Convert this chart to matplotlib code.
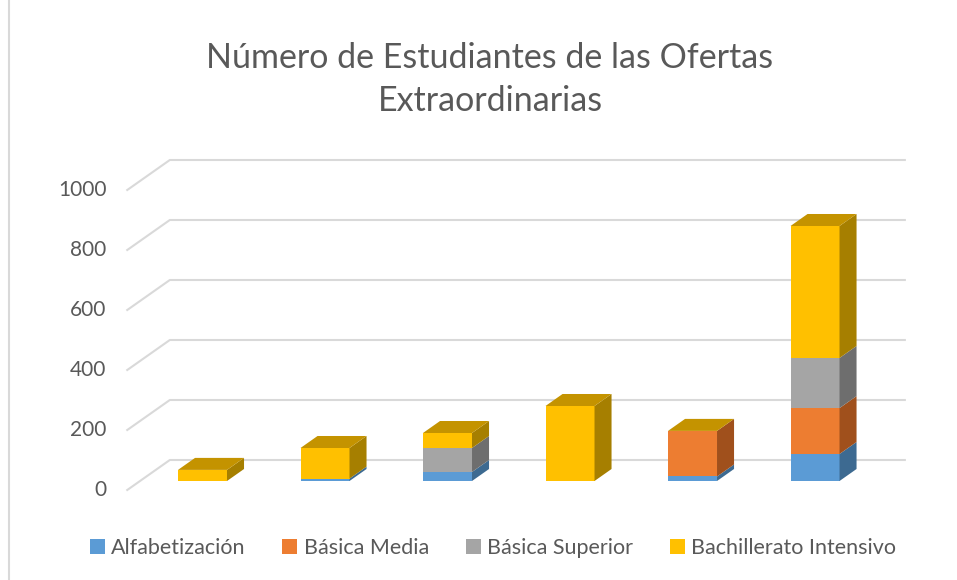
import matplotlib.pyplot as plt
from matplotlib.patches import Patch, Polygon
from matplotlib.lines import Line2D

# ---------------------------------------------------------------
# Data
# ---------------------------------------------------------------
categories = ["Oferta 1", "Oferta 2", "Oferta 3", "Oferta 4", "Oferta 5", "Oferta 6"]
series_names = ["Alfabetización", "Básica Media", "Básica Superior", "Bachillerato Intensivo"]
alfabetizacion = [0, 8, 30, 0, 15, 90]
basica_media = [0, 0, 0, 0, 152, 153]
basica_superior = [0, 0, 80, 0, 0, 167]
bachillerato = [37, 102, 50, 250, 0, 440]
y_ticks = [0, 200, 400, 600, 800, 1000]

# ---------------------------------------------------------------
# Style
# ---------------------------------------------------------------
FRONT = ["#5B9BD5", "#ED7D31", "#A5A5A5", "#FFC000"]
SIDE = ["#3D6A91", "#A0501C", "#6E6E6E", "#A67F00"]
CAP = "#C49300"   # top face (last series caps every column)
TEXT = "#595959"
GRID = "#D9D9D9"

plt.rcParams["font.family"] = ["Lato", "DejaVu Sans"]

BAR_W = 0.4
DX, DY = 0.139, 40.0   # shift per unit of depth (3D look)
X0, X1 = -0.51, 5.49   # floor extent at bar front plane


def draw_chart():
    fig = plt.figure(figsize=(9.57, 5.8), dpi=100)
    ax = fig.add_axes([0, 0, 1, 1])
    ax.set_xlim(-1.653, 6.159)
    ax.set_ylim(-330, 1603.3)
    ax.axis("off")

    # walls / gridlines
    for v in y_ticks:
        xs = [X0 - 0.75 * DX, X0 + 1.75 * DX, X1 + 1.75 * DX]
        ys = [v - 0.75 * DY, v + 1.75 * DY, v + 1.75 * DY]
        ax.plot(xs, ys, color=GRID, lw=1.5, zorder=1)
        ax.text(X0 - 0.75 * DX - 0.17, v - 0.75 * DY, str(v), ha="right",
                va="center", fontsize=15, color=TEXT)

    series = [alfabetizacion, basica_media, basica_superior, bachillerato]
    for i in range(len(categories)):
        bottom = 0
        left, right = i - BAR_W / 2, i + BAR_W / 2
        for k, vals in enumerate(series):
            h = vals[i]
            if h <= 0:
                continue
            top = bottom + h
            ax.bar(i, h, bottom=bottom, width=BAR_W, color=FRONT[k],
                   linewidth=0, zorder=3)
            side = [(right, bottom), (right + DX, bottom + DY),
                    (right + DX, top + DY), (right, top)]
            ax.add_patch(Polygon(side, closed=True, facecolor=SIDE[k],
                                 edgecolor="none", zorder=3))
            bottom = top
        if bottom > 0:
            cap = [(left, bottom), (right, bottom),
                   (right + DX, bottom + DY), (left + DX, bottom + DY)]
            ax.add_patch(Polygon(cap, closed=True, facecolor=CAP,
                                 edgecolor="none", zorder=4))

    fig.text(0.512, 0.863, "Número de Estudiantes de las Ofertas\nExtraordinarias",
             ha="center", va="center", fontsize=24.5, color=TEXT, linespacing=1.4)

    handles = [Patch(facecolor=c, edgecolor="none") for c in FRONT]
    fig.legend(handles, series_names, loc="center", bbox_to_anchor=(0.515, 0.055),
               ncol=4, frameon=False, fontsize=15.5, labelcolor=TEXT,
               handlelength=0.7, handleheight=0.7, handletextpad=0.3,
               columnspacing=1.7)

    # chart border on the left edge
    fig.add_artist(Line2D([0.0094, 0.0094], [0, 1], color=GRID, lw=1.5))
    return fig


fig = draw_chart()
fig.savefig("out.png", dpi=100)
